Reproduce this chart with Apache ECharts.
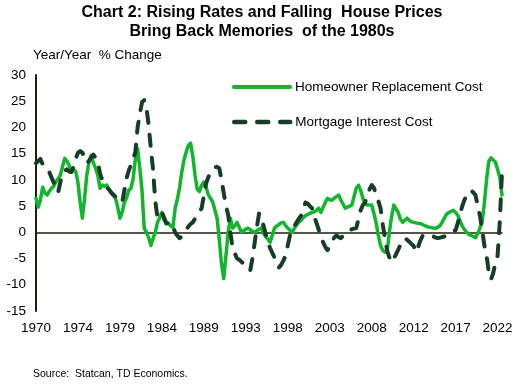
<!DOCTYPE html>
<html>
<head>
<meta charset="utf-8">
<script src="https://cdn.jsdelivr.net/npm/echarts@6/dist/echarts.min.js"></script>
<style>
html,body{margin:0;padding:0;background:#fff;}
#c{width:516px;height:386px;}
</style>
</head>
<body>
<div id="c"></div>
<script>
// Quarterly data, 1970Q1 .. 2022Q4
var startYear = 1970;
var homeownerReplacementCost = [
  6.5, 4.8, 6.2, 8.6, 7.5, 7.1, 7.8, 8.4, 8.8, 9.6,
  10.2, 10.9, 12.5, 14.1, 13.6, 12.8, 11.5, 12, 11.6, 9.5,
  5.7, 2.7, 6.5, 10.9, 13.5, 14.7, 13.2, 12.2, 10.8, 8.4,
  9, 8.8, 9, 8.2, 7.6, 7, 6.5, 4.8, 2.7, 3.8,
  5.7, 6.6, 8, 8.4, 10.3, 14, 16, 12.2, 8, 0.8,
  0, -1, -2.5, -1.2, 0, 1.9, 2.8, 3.8, 2.3, 1.9,
  1.7, 1.2, 1, 4.6, 6.3, 8.5, 11.5, 13.8, 15.3, 16.6,
  17, 14.5, 10.9, 8.2, 7.8, 9, 9.6, 8.6, 7.2, 6.5,
  5.8, 4.2, 2.7, -1.5, -6, -8.8, -4.5, 0, 2.7, 0.8,
  1.2, 1.9, 1, 0, 0.3, 0.6, 0.8, 0.5, 0.2, 0,
  0.3, 0.6, 0.8, -0.2, -0.8, -1.3, -1.9, -0.5, 0.8, 1.2,
  1.5, 1.8, 1.9, 1.3, 0.8, 0.4, 0, 0.8, 1.4, 1.9,
  2.3, 2.8, 3.2, 3.4, 3.6, 3.8, 3.9, 4.2, 4.6, 3.8,
  4.8, 5.7, 6.5, 6.2, 6.1, 6.5, 6.8, 7.1, 6.2, 5.4,
  4.6, 4.8, 5, 5.2, 6.8, 8.4, 9, 8, 6.5, 5.5,
  5.2, 5.2, 5.2, 3.6, 1.8, -0.6, -2.5, -3.4, -3.8, -3.6,
  0, 3, 5.2, 4.5, 3.8, 2.5, 1.9, 2.3, 2.7, 2.3,
  2, 1.9, 1.8, 1.7, 1.7, 1.5, 1.3, 1.1, 1, 0.9,
  0.8, 0.8, 1, 1.3, 2, 2.8, 3.5, 3.8, 4, 4.2,
  3.8, 3.2, 2.2, 1.2, 0.5, 0, -0.4, -0.6, -0.8, -1,
  -0.2, 0.8, 2, 5.5, 10, 13.5, 14.2, 13.8, 13.4, 12,
  10.5, 7.1
];
var mortgageInterestCost = [
  13.2, 13.6, 14, 13, 12.2, 11.8, 11.5, 10.5, 9.5, 8.5,
  7.6, 9.5, 11.3, 11.8, 12, 11.6, 11.5, 12.5, 14, 15.2,
  15.5, 15.2, 14.2, 13.2, 13.6, 14.3, 14.8, 14.2, 13.4, 11.2,
  10, 9, 8.6, 8.2, 7.6, 7.2, 6.8, 6.4, 6, 5.7,
  8, 10.3, 11.8, 12.8, 14, 15.3, 20, 22.5, 24.8, 25.2,
  23.8, 20.5, 16, 12, 6, 2.8, 3.2, 3.8, 2.8, 1.7,
  1.8, 1.9, 1, 0, -0.6, -1.1, -0.8, -0.2, 0.5, 1.1,
  1.6, 1.9, 2.6, 3.2, 3.9, 4.6, 7, 9.3, 10.5, 11.3,
  12, 12.4, 12.5, 12.2, 10, 7.5, 5, 3.4, 0, -3,
  -4, -5, -5.2, -5.6, -6, -6.4, -6.8, -7.3, -5, -2,
  1, 3.6, 2.5, 1.3, -0.3, -1.9, -3, -3.9, -4.8, -5.8,
  -6.7, -6.2, -5.4, -4.5, -2.5, -0.6, 0.4, 1.2, 1.9, 2.6,
  3.2, 4.3, 5.7, 5.5, 5, 4.6, 3, 1.8, 0.5, -0.8,
  -1.9, -2.8, -3.4, -2.6, -1.8, -1, -0.6, -0.9, -1.1, -0.7,
  -0.3, 0.1, 0.4, 0.6, 0.7, 0.8, 2.5, 4.2, 5.2, 5.7,
  7, 8.2, 9, 8.5, 7.1, 6, 4.6, 1.5, -1.1, -3.5,
  -4.8, -5.7, -5, -4.2, -3.3, -2.4, -1.6, -1.1, -1.4, -1.8,
  -2.2, -2.6, -3.8, -2.8, -1.6, -0.7, -0.5, -0.5, -0.6, -0.6,
  -0.8, -1, -1.1, -1, -0.9, -0.8, -0.6, -0.4, 0, 0.2,
  0.4, 1.8, 3.5, 5, 6.2, 7, 7.6, 8, 7.6, 7.1,
  5, 3.2, 0.5, -2.5, -4.4, -7.5, -9, -7.8, -5.8, -4.5,
  2, 11.5
];
var seriesNames = ['Homeowner Replacement Cost', 'Mortgage Interest Cost'];
var titleLines = ['Chart 2: Rising Rates and Falling  House Prices', 'Bring Back Memories  of the 1980s'];
var yAxisTitle = 'Year/Year  % Change';
var sourceText = 'Source:  Statcan, TD Economics.';

var categories = [];
for (var i = 0; i < homeownerReplacementCost.length; i++) {
  categories.push(String(startYear + Math.floor(i / 4)) + 'Q' + (i % 4 + 1));
}

var FONT = '"Liberation Sans", Arial, sans-serif';
var GREEN = '#14b52e';
var DARK = '#183d27';
var AXIS = '#1f1f10';

var chart = echarts.init(document.getElementById('c'), null, {renderer: 'canvas'});
chart.setOption({
  animation: false,
  backgroundColor: '#fff',
  textStyle: {fontFamily: FONT},
  grid: {left: 36, right: 14, top: 75, bottom: 75, containLabel: false},
  graphic: [
    {type: 'text', x: 262, y: 13, style: {text: titleLines[0], font: 'bold 16px ' + FONT, fill: '#000', textAlign: 'center', textVerticalAlign: 'middle'}},
    {type: 'text', x: 262, y: 32, style: {text: titleLines[1], font: 'bold 16px ' + FONT, fill: '#000', textAlign: 'center', textVerticalAlign: 'middle'}},
    {type: 'text', x: 33, y: 55, style: {text: yAxisTitle, font: '13.5px ' + FONT, fill: '#000', textVerticalAlign: 'middle'}},
    {type: 'text', x: 33, y: 374, style: {text: sourceText, font: '10.5px ' + FONT, fill: '#000', textVerticalAlign: 'middle'}}
  ],
  legend: [
    {data: [seriesNames[0]], left: 232, top: 80, padding: 0, itemWidth: 56, itemHeight: 14, itemGap: 0,
     itemStyle: {opacity: 0}, lineStyle: {width: 4},
     textStyle: {fontSize: 13.5, color: '#000', fontFamily: FONT}, selectedMode: false},
    {data: [seriesNames[1]], left: 232, top: 115, padding: 0, itemWidth: 56, itemHeight: 14, itemGap: 0,
     itemStyle: {opacity: 0}, lineStyle: {width: 4.5},
     textStyle: {fontSize: 13.5, color: '#000', fontFamily: FONT}, selectedMode: false}
  ],
  xAxis: [
    {
      type: 'category', data: categories, boundaryGap: false, position: 'bottom',
      axisLine: {show: false, onZero: false},
      axisTick: {show: false},
      axisLabel: {interval: 18, margin: 10, fontSize: 13.5, color: '#000', fontFamily: FONT,
        formatter: function (v) { return v.slice(0, 4); }},
      splitLine: {show: false}
    },
    {
      type: 'category', data: categories, boundaryGap: false, position: 'bottom',
      axisLine: {show: true, onZero: true, lineStyle: {color: AXIS, width: 1.5}},
      axisTick: {show: false}, axisLabel: {show: false}, splitLine: {show: false}
    }
  ],
  yAxis: {
    type: 'value', min: -15, max: 30, interval: 5,
    axisLine: {show: true, lineStyle: {color: AXIS, width: 2}},
    axisTick: {show: false},
    axisLabel: {margin: 10, fontSize: 13.5, color: '#000', fontFamily: FONT},
    splitLine: {show: false}
  },
  series: [
    {
      name: seriesNames[0], type: 'line', data: homeownerReplacementCost, xAxisIndex: 0,
      symbol: 'none', showSymbol: false, smooth: false,
      lineStyle: {color: GREEN, width: 3.5, join: 'round', cap: 'round'},
      itemStyle: {color: GREEN}, z: 3
    },
    {
      name: seriesNames[1], type: 'line', data: mortgageInterestCost, xAxisIndex: 0,
      symbol: 'none', showSymbol: false, smooth: false,
      lineStyle: {color: DARK, width: 4, type: [11, 12], cap: 'round', join: 'round'},
      itemStyle: {color: DARK}, z: 4
    }
  ]
});
</script>
</body>
</html>
